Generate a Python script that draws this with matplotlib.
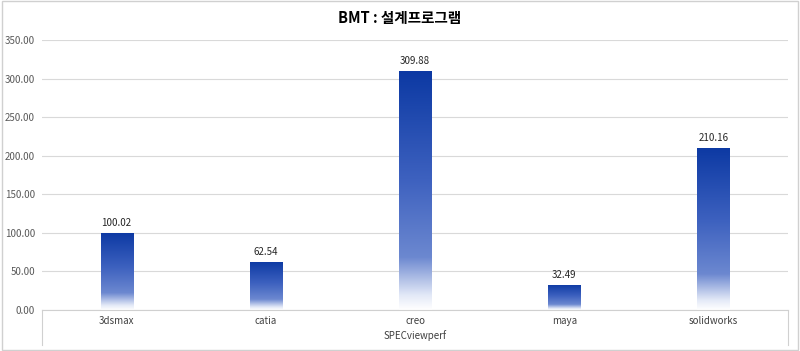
import numpy as np
import matplotlib
matplotlib.use("Agg")
import matplotlib.pyplot as plt
from matplotlib.colors import LinearSegmentedColormap

plt.rcParams['font.family'] = ['Noto Sans CJK KR', 'DejaVu Sans']

# data
categories = ["3dsmax", "catia", "creo", "maya", "solidworks"]
values = [100.02, 62.54, 309.88, 32.49, 210.16]
group_label = "SPECviewperf"
title = "BMT : 설계프로그램"
yticks = [0, 50, 100, 150, 200, 250, 300, 350]

# bottom (white) -> top (dark blue)
cmap = LinearSegmentedColormap.from_list(
    "bluefade",
    [(0.0, "#ffffff"), (0.06, "#e3e9f7"), (0.22, "#6c88d0"),
     (0.55, "#3d61bf"), (1.0, "#0c39a3")])

fig = plt.figure(figsize=(8, 3.51), dpi=100)
ax = fig.add_axes([0.0525, 0.1168, 0.9325, 0.769])

x = np.arange(len(categories))
width = 0.215
bars = ax.bar(x, values, width=width, color="none", edgecolor="none", zorder=2)

grad = np.linspace(0, 1, 256).reshape(-1, 1)
for b in bars:
    x0, y0 = b.get_x(), b.get_y()
    im = ax.imshow(grad, cmap=cmap, origin="lower", aspect="auto",
                   extent=[x0, x0 + b.get_width(), y0, y0 + b.get_height()],
                   zorder=2)
    im.set_clip_path(b)
    ax.text(b.get_x() + b.get_width() / 2, b.get_height() + 6,
            f"{b.get_height():.2f}", ha="center", va="bottom",
            fontsize=7, color="#262626")

ax.set_xlim(-0.5, len(categories) - 0.5)
ax.set_ylim(0, 350)
ax.set_yticks(yticks)
ax.set_yticklabels([f"{v:.2f}" for v in yticks], fontsize=7, color="#595959")
ax.set_xticks(x)
ax.set_xticklabels(categories, fontsize=7, color="#404040")
ax.tick_params(axis="both", length=0)
ax.tick_params(axis="x", pad=4)
ax.tick_params(axis="y", pad=5)
ax.grid(axis="y", color="#d9d9d9", linewidth=0.8, zorder=0)
ax.set_axisbelow(True)
for s in ["top", "right", "left"]:
    ax.spines[s].set_visible(False)
ax.spines["bottom"].set_color("#d0d0d0")

# category box (multi-level axis)
box_depth = -0.13
for xx in (0, 1):
    ax.plot([xx, xx], [0, box_depth], transform=ax.transAxes,
            color="#d0d0d0", linewidth=0.8, clip_on=False)
ax.text(0.5, -0.095, group_label, transform=ax.transAxes, ha="center",
        va="center", fontsize=7, color="#404040")

fig.text(0.5, 0.948, title, ha="center", va="center", fontsize=10.5,
         fontweight="bold", color="#000000")

# outer border
fig.patches.append(plt.Rectangle((0.002, 0.003), 0.996, 0.994,
                                 transform=fig.transFigure, fill=False,
                                 edgecolor="#d0d0d0", linewidth=1))

fig.savefig("out.png", dpi=100)
